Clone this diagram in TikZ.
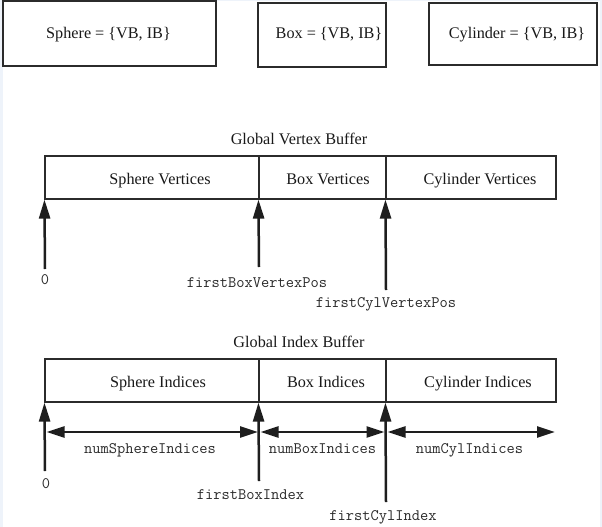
\documentclass[tikz,border=0pt]{standalone}
\usepackage{fontspec}
\setmainfont{Liberation Serif}
\usetikzlibrary{arrows.meta}
\definecolor{edgeblue}{HTML}{EEF3FA}
\definecolor{boxline}{HTML}{2B2B2B}
\definecolor{arrowc}{HTML}{1E1E1E}
\definecolor{monoc}{HTML}{2A2A2A}
\tikzset{
  objbox/.style={draw=boxline, line width=1.3pt, inner sep=0pt},
  cellbox/.style={draw=boxline, line width=1.1pt, inner sep=0pt, minimum height=43pt},
  serif/.style={inner sep=0pt, anchor=base, font=\fontsize{16.2}{19}\selectfont, text=black!90},
  mono/.style={inner sep=0pt, anchor=base, font=\fontsize{16}{18}\selectfont\ttfamily, text=monoc},
  uparr/.style={draw=arrowc, line width=2.5pt, -{Triangle[length=19pt,width=11pt]}},
  dblarr/.style={draw=arrowc, line width=2.5pt, {Triangle[length=18pt,width=11pt]}-{Triangle[length=18pt,width=11pt]}}
}
\begin{document}
\begin{tikzpicture}[x=1pt,y=-1pt]
\useasboundingbox (0,0) rectangle (602,527);
\fill[edgeblue] (0,0) rectangle (602,527);
\fill[white] (3,1.2) rectangle (599.5,527);

% top object boxes
\node[objbox, minimum width=213pt, minimum height=65pt] (sph) at (109.5,33.5) {};
\node[objbox, minimum width=128pt, minimum height=64pt] (box) at (322,35) {};
\node[objbox, minimum width=168pt, minimum height=62pt] (cyl) at (513,34) {};
\node[serif] (sphT) at (108.5,38.5) {Sphere = \{VB, IB\}};
\node[serif] (boxT) at (329,38.5) {Box = \{VB, IB\}};
\node[serif] (cylT) at (517,38.5) {Cylinder = \{VB, IB\}};

% global vertex buffer
\node[serif] (gvb) at (299,144.5) {Global Vertex Buffer};
\node[cellbox, minimum width=214pt] (vs) at (152,177.5) {};
\node[cellbox, minimum width=127pt] (vb) at (322.5,177.5) {};
\node[cellbox, minimum width=170pt] (vc) at (471,177.5) {};
\node[serif] (vsT) at (160,184.5) {Sphere Vertices};
\node[serif] (vbT) at (328,184.5) {Box Vertices};
\node[serif] (vcT) at (480,184.5) {Cylinder Vertices};

\coordinate (v0) at (45,269);
\coordinate (v1) at (259,267);
\coordinate (v2) at (386,290);
\draw[uparr] (v0) -- (vs.south west);
\draw[uparr] (v1) -- (vb.south west);
\draw[uparr] (v2) -- (vc.south west);
\node[mono] (v0L) at (45,284) {0};
\node[mono] (v1L) at (257,287) {firstBoxVertexPos};
\node[mono] (v2L) at (386,307.5) {firstCylVertexPos};

% global index buffer
\node[serif] (gib) at (299,347.5) {Global Index Buffer};
\node[cellbox, minimum width=214pt] (is) at (152,380.5) {};
\node[cellbox, minimum width=127pt] (ib) at (322.5,380.5) {};
\node[cellbox, minimum width=170pt] (ic) at (471,380.5) {};
\node[serif] (isT) at (158,387) {Sphere Indices};
\node[serif] (ibT) at (326,387) {Box Indices};
\node[serif] (icT) at (478,387) {Cylinder Indices};

\coordinate (i0) at (45,471);
\coordinate (i1) at (259,481);
\coordinate (i2) at (386,502);
\draw[uparr] (i0) -- (is.south west);
\draw[uparr] (i1) -- (ib.south west);
\draw[uparr] (i2) -- (ic.south west);

\coordinate (h0) at (46.5,432);
\coordinate (h1l) at (258,432);
\coordinate (h1r) at (260.5,432);
\coordinate (h2l) at (384.5,432);
\coordinate (h2r) at (387.5,432);
\coordinate (h3) at (555,432);
\draw[dblarr] (h0) -- (h1l);
\draw[dblarr] (h1r) -- (h2l);
\draw[dblarr] (h2r) -- (h3);

\node[mono] (n0) at (150,453) {numSphereIndices};
\node[mono] (n1) at (322.5,453) {numBoxIndices};
\node[mono] (n2) at (469.5,453) {numCylIndices};
\node[mono] (i0L) at (46,488) {0};
\node[mono] (i1L) at (250.5,499) {firstBoxIndex};
\node[mono] (i2L) at (383,520) {firstCylIndex};
\end{tikzpicture}
\end{document}
